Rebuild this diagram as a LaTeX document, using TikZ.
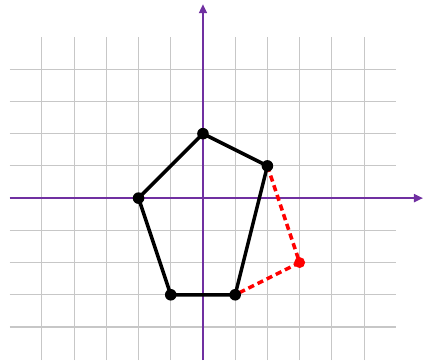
\documentclass[tikz,border=0pt]{standalone}
\usepackage{xcolor}
\usepackage{tikz}
\usetikzlibrary{arrows.meta}
\definecolor{axispurple}{rgb}{0.44, 0.19, 0.63}
\definecolor{gridgray}{rgb}{0.78, 0.78, 0.78}

\begin{document}
\begin{tikzpicture}[>={Triangle[length=8pt, width=7pt]}, line cap=butt]
        \useasboundingbox (-6.3,-5.03) rectangle (6.83,6.15);
        % Grid
        \foreach \x in {-5,...,5}
            \draw [gridgray, line width=0.9pt] (\x,-5.03) -- (\x,5);
        \foreach \y in {-4,...,4}
            \draw [gridgray, line width=0.9pt] (-6,\y) -- (6,\y);
        % Axes
        \draw [->, axispurple, line width=1.8pt] (-6,0) -- (6.83,0);
        \draw [->, axispurple, line width=1.8pt] (0,-5.03) -- (0,6.02);
        % Vertices
        \coordinate (top) at (0,2);
        \coordinate (right) at (2,1);
        \coordinate (lowright) at (1,-3);
        \coordinate (lowleft) at (-1,-3);
        \coordinate (left) at (-2,0);
        \coordinate (image) at (3,-2);
        % Dashed triangle
        \draw [red, line width=3.1pt, dash pattern=on 5.5pt off 3.5pt] (right) -- (image) -- (lowright);
        \fill [red] (image) circle (0.17);
        % Pentagon
        \draw [black, line width=3.1pt, line join=round] (top) -- (right) -- (lowright) -- (lowleft) -- (left) -- cycle;
        \foreach \p in {top, right, lowright, lowleft, left}
            \fill [black] (\p) circle (0.18);
    \end{tikzpicture}
\end{document}
